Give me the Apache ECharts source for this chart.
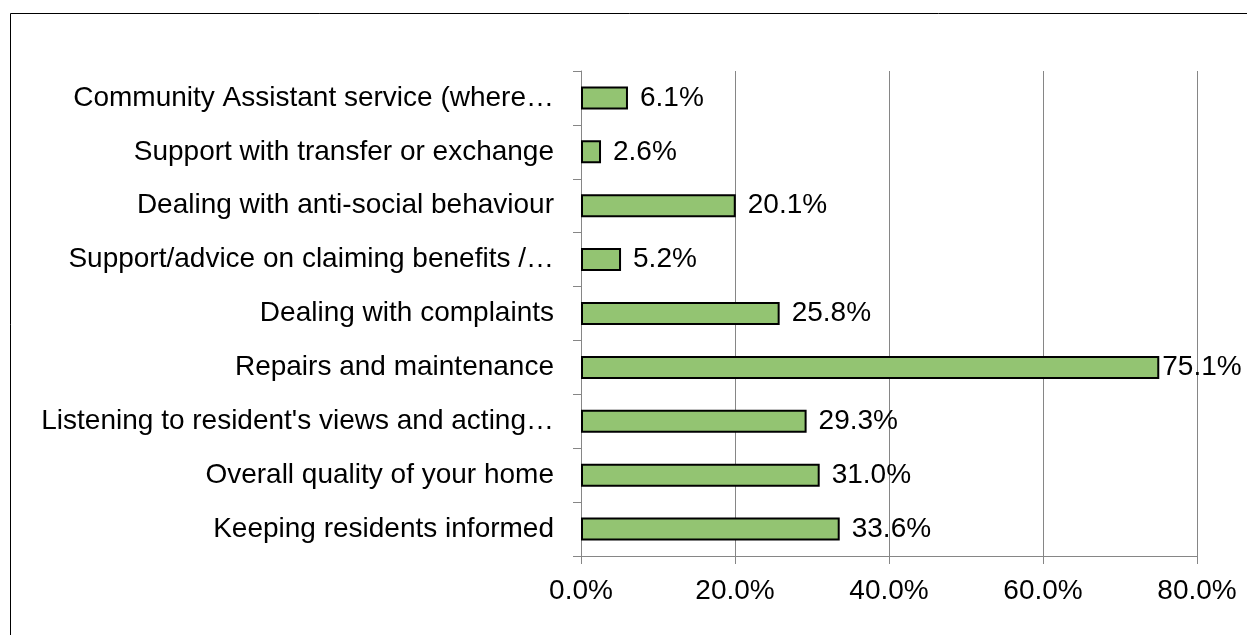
<!DOCTYPE html>
<html>
<head>
<meta charset="utf-8">
<script src="https://cdn.jsdelivr.net/npm/echarts@6/dist/echarts.min.js"></script>
<style>
html,body{margin:0;padding:0;background:#fff;}
#chart{width:1247px;height:635px;}
</style>
</head>
<body>
<div id="chart"></div>
<script>
const categories = [
  "Keeping residents informed",
  "Overall quality of your home",
  "Listening to resident's views and acting…",
  "Repairs and maintenance",
  "Dealing with complaints",
  "Support/advice on claiming benefits /…",
  "Dealing with anti-social behaviour",
  "Support with transfer or exchange",
  "Community Assistant service (where…"
];
const values = [33.6, 31.0, 29.3, 75.1, 25.8, 5.2, 20.1, 2.6, 6.1];
const xTicks = [0, 20, 40, 60, 80];

const FONT = '"Liberation Sans", Arial, sans-serif';
const FS = 28;
const chart = echarts.init(document.getElementById('chart'), null, {renderer: 'canvas'});
chart.setOption({
  animation: false,
  backgroundColor: '#ffffff',
  graphic: [{
    type: 'rect',
    shape: {x: 10.5, y: 13.5, width: 1300, height: 700},
    style: {fill: 'none', stroke: '#000', lineWidth: 1},
    silent: true
  }],
  grid: {left: 581, right: 50, top: 71, bottom: 79, containLabel: false},
  xAxis: {
    type: 'value',
    min: xTicks[0],
    max: xTicks[xTicks.length - 1],
    interval: 20,
    axisLine: {show: true, lineStyle: {color: '#868686', width: 1}},
    axisTick: {show: true, length: 8, lineStyle: {color: '#868686'}},
    splitLine: {show: true, lineStyle: {color: '#868686', width: 1}},
    axisLabel: {
      color: '#000', fontFamily: FONT, fontSize: FS, margin: 21,
      formatter: v => v.toFixed(1) + '%'
    }
  },
  yAxis: {
    type: 'category',
    data: categories,
    axisLine: {show: true, lineStyle: {color: '#868686', width: 1}},
    axisTick: {show: true, length: 8, lineStyle: {color: '#868686'}},
    axisLabel: {color: '#000', fontFamily: FONT, fontSize: FS, margin: 27}
  },
  series: [{
    type: 'bar',
    barWidth: 23,
    data: values.map(v => v === 75.1 ? {value: v, label: {distance: 3}} : v),
    itemStyle: {color: '#93C472', borderColor: '#000', borderWidth: 2},
    label: {
      show: true, position: 'right', distance: 12,
      color: '#000', fontFamily: FONT, fontSize: FS,
      formatter: p => p.value.toFixed(1) + '%'
    }
  }]
});
</script>
</body>
</html>
